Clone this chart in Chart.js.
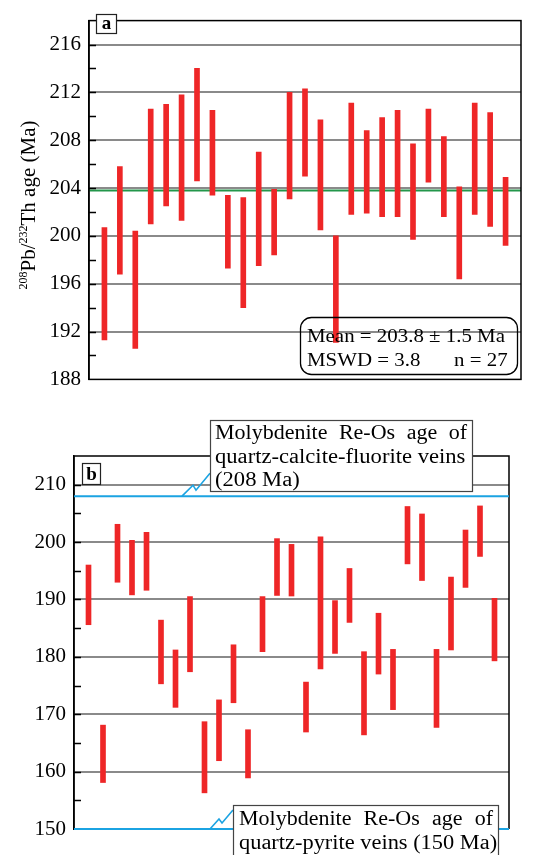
<!DOCTYPE html>
<html>
<head>
<meta charset="utf-8">
<script src="https://cdn.jsdelivr.net/npm/chart.js@4.4.1/dist/chart.umd.min.js"></script>
<style>
  html, body { margin: 0; padding: 0; background: #fff; }
  #wrap { position: relative; width: 534px; height: 855px; overflow: hidden; }
  canvas { position: absolute; left: 0; }
  #chartA { top: 0; }
  #chartB { top: 400px; }
</style>
</head>
<body>
<div id="wrap">
  <canvas id="chartA" width="534" height="400"></canvas>
  <canvas id="chartB" width="534" height="455"></canvas>
</div>
<script>
// ---- panel a : 208Pb/232Th spot ages (error bars) ----
const spotsA = [1,2,3,4,5,6,7,8,9,10,11,12,13,14,15,16,17,18,19,20,21,22,23,24,25,26,27];
const lowA  = [191.3,196.8,190.6,201.0,202.5,201.3,204.6,203.4,197.3,194.0,197.5,198.4,203.1,205.0,200.5,191.1,201.8,201.9,201.6,201.6,199.7,204.5,201.6,196.4,201.8,200.8,199.2];
const highA = [200.7,205.8,200.4,210.6,211.0,211.8,214.0,210.5,203.4,203.2,207.0,203.9,212.0,212.3,209.7,200.0,211.1,208.8,209.9,210.5,207.7,210.6,208.3,204.1,211.1,210.3,204.9];
const ticksA = [188,192,196,200,204,208,212,216];
const meanA = 203.8;

// ---- panel b ----
const spotsB = [1,2,3,4,5,6,7,8,9,10,11,12,13,14,15,16,17,18,19,20,21,22,23,24,25,26,27,28,29];
const lowB  = [185.6,158.1,193.0,190.8,191.6,175.3,171.2,177.4,156.3,161.9,172.0,158.9,180.9,190.7,190.6,166.9,177.9,180.6,186.0,166.4,177.0,170.8,196.2,193.3,167.7,181.2,192.1,197.5,179.3];
const highB = [196.0,168.1,203.1,200.3,201.7,186.4,181.2,190.5,168.7,172.5,182.1,167.3,190.5,200.6,199.6,175.6,200.9,189.8,195.4,180.9,187.6,181.3,206.2,204.9,181.3,193.9,202.1,206.3,190.2];
const ticksB = [150,160,170,180,190,200,210];
const reOsAges = [208, 150];

const RED = '#ee2627';
const GRID = '#8a8a8a';
const BLUE = '#1ba3e2';
const GREEN = '#23964a';
const SERIF = '"Liberation Serif", "Times New Roman", serif';
const SX = 1.1; // source text is slightly stretched horizontally

function sText(ctx, str, x, y, align, sx) {
  ctx.save();
  ctx.translate(x, y);
  ctx.scale(sx || SX, 1);
  ctx.textAlign = align || 'left';
  ctx.fillText(str, 0, 0);
  ctx.restore();
}

function justText(ctx, str, x, y, w, sx) {
  const k = sx || SX;
  const words = str.split(' ');
  const widths = words.map(s => ctx.measureText(s).width * k);
  const sum = widths.reduce((a, b) => a + b, 0);
  const gap = (w - sum) / (words.length - 1);
  let cx = x;
  words.forEach((s, i) => { sText(ctx, s, cx, y, 'left', k); cx += widths[i] + gap; });
}

function yScaleOpts(min, max, ticks, width, pad) {
  return {
    type: 'linear', min: min, max: max,
    afterBuildTicks: s => { s.ticks = ticks.map(v => ({ value: v })); },
    afterFit: s => { s.width = width; },
    ticks: { color: '#000', padding: pad, font: { family: SERIF, size: 21 } },
    grid: { color: c => (c.tick && c.tick.value === min) ? 'rgba(0,0,0,0)' : GRID, lineWidth: 2, drawTicks: false },
    border: { color: '#000', width: 1.5 }
  };
}

function inwardTicks(ctx, chart, from, to, step) {
  const a = chart.chartArea, y = chart.scales.y;
  ctx.save();
  ctx.strokeStyle = '#000';
  ctx.lineWidth = 1.3;
  ctx.beginPath();
  for (let v = from; v <= to; v += step) {
    const py = Math.round(y.getPixelForValue(v)) + 0.5;
    ctx.moveTo(a.left, py);
    ctx.lineTo(a.left + 7, py);
  }
  ctx.stroke();
  ctx.restore();
}

function letterBox(ctx, ch, x, y, w, h) {
  ctx.save();
  ctx.fillStyle = '#fff';
  ctx.fillRect(x, y, w, h);
  ctx.strokeStyle = '#222';
  ctx.lineWidth = 1.2;
  ctx.strokeRect(x + 0.5, y + 0.5, w, h);
  ctx.fillStyle = '#000';
  ctx.font = 'bold 19px ' + SERIF;
  ctx.textAlign = 'center';
  ctx.fillText(ch, x + w / 2 + 0.5, y + h - 4);
  ctx.restore();
}

// ---------- panel a ----------
const panelA = {
  id: 'panelA',
  beforeDatasetsDraw(chart) {
    const ctx = chart.ctx, a = chart.chartArea;
    const py = chart.scales.y.getPixelForValue(meanA);
    ctx.save();
    ctx.strokeStyle = GREEN;
    ctx.lineWidth = 2;
    ctx.beginPath();
    ctx.moveTo(a.left, py);
    ctx.lineTo(a.right, py);
    ctx.stroke();
    ctx.restore();
  },
  afterDatasetsDraw(chart) {
    const ctx = chart.ctx, a = chart.chartArea;
    // frame
    ctx.save();
    ctx.strokeStyle = '#000';
    ctx.lineWidth = 1.5;
    ctx.strokeRect(a.left, a.top, a.right - a.left, a.bottom - a.top);
    ctx.restore();
    inwardTicks(ctx, chart, 190, 216, 2);
    letterBox(ctx, 'a', 96, 14, 20, 19);

    // mean box
    ctx.save();
    ctx.strokeStyle = '#000';
    ctx.lineWidth = 1.3;
    ctx.beginPath();
    ctx.roundRect(300.5, 317.5, 217, 57, 11);
    ctx.stroke();
    ctx.fillStyle = '#000';
    ctx.font = '19px ' + SERIF;
    sText(ctx, 'Mean = 203.8 \u00b1 1.5 Ma', 307, 342);
    sText(ctx, 'MSWD = 3.8', 307, 366);
    sText(ctx, 'n = 27', 454, 366);
    ctx.restore();

    // y title with superscripts
    ctx.save();
    ctx.translate(35, 205);
    ctx.rotate(-Math.PI / 2);
    ctx.fillStyle = '#000';
    const parts = [['208', true], ['Pb/', false], ['232', true], ['Th age (Ma)', false]];
    const fontFor = sup => (sup ? '12px ' : '21px ') + SERIF;
    let total = 0;
    parts.forEach(p => { ctx.font = fontFor(p[1]); total += ctx.measureText(p[0]).width; });
    let cx = -total / 2;
    parts.forEach(p => {
      ctx.font = fontFor(p[1]);
      ctx.fillText(p[0], cx, p[1] ? -8 : 0);
      cx += ctx.measureText(p[0]).width;
    });
    ctx.restore();
  }
};

new Chart(document.getElementById('chartA'), {
  type: 'bar',
  data: {
    datasets: [{
      data: spotsA.map((s, i) => ({ x: s, y: [lowA[i], highA[i]] })),
      backgroundColor: RED,
      borderWidth: 0,
      barThickness: 5
    }]
  },
  options: {
    responsive: false,
    animation: false,
    devicePixelRatio: 1,
    layout: { padding: { top: 6, right: 13, bottom: 19, left: 0 } },
    plugins: { legend: { display: false }, tooltip: { enabled: false } },
    scales: {
      x: { type: 'linear', min: 0, max: 28, offset: false, display: false },
      y: yScaleOpts(188, 218, ticksA, 89, 8)
    }
  },
  plugins: [panelA]
});

// ---------- panel b ----------
const panelB = {
  id: 'panelB',
  afterDatasetsDraw(chart) {
    const ctx = chart.ctx, a = chart.chartArea, y = chart.scales.y;
    // frame: top, left, right (bottom is the 150 Ma line)
    ctx.save();
    ctx.strokeStyle = '#000';
    ctx.lineWidth = 1.5;
    ctx.beginPath();
    ctx.moveTo(a.left, a.bottom);
    ctx.lineTo(a.left, a.top);
    ctx.lineTo(a.right, a.top);
    ctx.lineTo(a.right, a.bottom);
    ctx.stroke();
    ctx.restore();
    inwardTicks(ctx, chart, 155, 210, 5);

    // Re-Os reference lines
    ctx.save();
    ctx.strokeStyle = BLUE;
    ctx.lineWidth = 2;
    reOsAges.forEach(v => {
      const py = y.getPixelForValue(v);
      ctx.beginPath();
      ctx.moveTo(a.left, py);
      ctx.lineTo(a.right, py);
      ctx.stroke();
    });
    // zigzag leaders
    ctx.lineWidth = 1.6;
    const p208 = y.getPixelForValue(reOsAges[0]);
    ctx.beginPath();
    ctx.moveTo(182, p208);
    ctx.lineTo(193, p208 - 11);
    ctx.lineTo(196, p208 - 6);
    ctx.lineTo(210, p208 - 23);
    ctx.stroke();
    const p150 = y.getPixelForValue(reOsAges[1]);
    ctx.beginPath();
    ctx.moveTo(210, p150);
    ctx.lineTo(219, p150 - 10);
    ctx.lineTo(222, p150 - 6);
    ctx.lineTo(233, p150 - 19);
    ctx.stroke();
    ctx.restore();

    letterBox(ctx, 'b', 82, 63, 18, 21);

    // annotation boxes
    ctx.save();
    ctx.fillStyle = '#fff';
    ctx.strokeStyle = '#444';
    ctx.lineWidth = 1.2;
    ctx.fillRect(210, 20, 262, 71);
    ctx.strokeRect(210.5, 20.5, 262, 71);
    ctx.fillRect(233, 405, 265, 60);
    ctx.strokeRect(233.5, 405.5, 265, 60);
    ctx.fillStyle = '#000';
    ctx.font = '20px ' + SERIF;
    justText(ctx, 'Molybdenite Re-Os age of', 215, 39, 252, 1.1);
    sText(ctx, 'quartz-calcite-fluorite veins', 215, 62.5, 'left', 1.13);
    sText(ctx, '(208 Ma)', 215, 86, 'left', 1.13);
    justText(ctx, 'Molybdenite Re-Os age of', 239, 424.5, 254, 1.1);
    sText(ctx, 'quartz-pyrite veins (150 Ma)', 239, 449, 'left', 1.12);
    ctx.restore();
  }
};

new Chart(document.getElementById('chartB'), {
  type: 'bar',
  data: {
    datasets: [{
      data: spotsB.map((s, i) => ({ x: s, y: [lowB[i], highB[i]] })),
      backgroundColor: RED,
      borderWidth: 0,
      barThickness: 5
    }]
  },
  options: {
    responsive: false,
    animation: false,
    devicePixelRatio: 1,
    layout: { padding: { top: 56, right: 25, bottom: 26, left: 0 } },
    plugins: { legend: { display: false }, tooltip: { enabled: false } },
    scales: {
      x: { type: 'linear', min: 0, max: 30, offset: false, display: false },
      y: yScaleOpts(150, 215, ticksB, 74, 8)
    }
  },
  plugins: [panelB]
});
</script>
</body>
</html>
